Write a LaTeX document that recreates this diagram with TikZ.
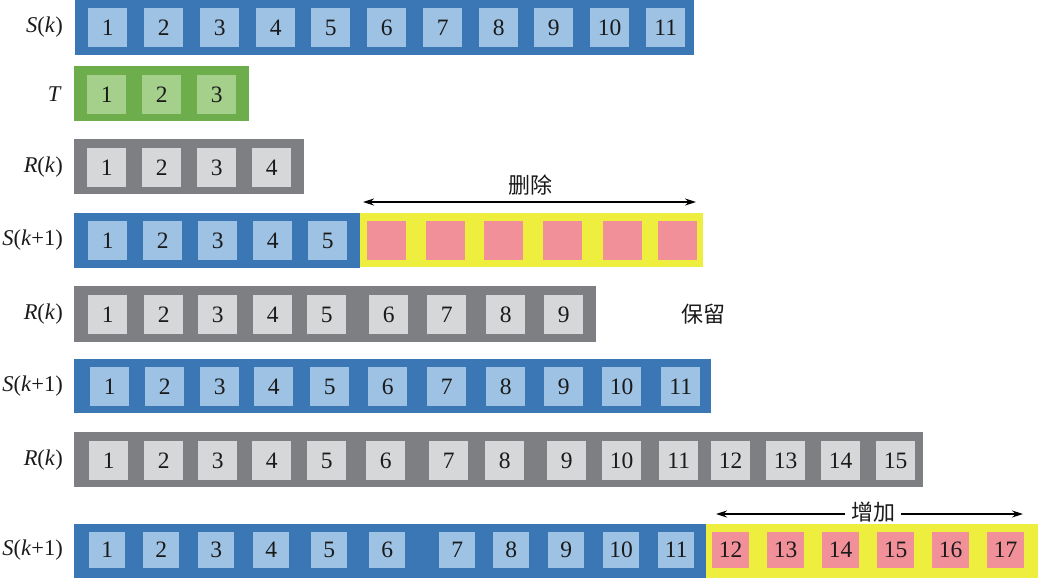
\documentclass[tikz,border=0pt]{standalone}
\usepackage{fontspec}
\setmainfont{Liberation Serif}
\newfontfamily\cjk{Noto Sans CJK SC}
\usetikzlibrary{arrows.meta}
\definecolor{barblue}{HTML}{3B77B4}
\definecolor{sqblue}{HTML}{9EC2E4}
\definecolor{bargreen}{HTML}{6EAD4C}
\definecolor{sqgreen}{HTML}{A5D08C}
\definecolor{bargray}{HTML}{7E7F83}
\definecolor{sqgray}{HTML}{D6D7D9}
\definecolor{baryellow}{HTML}{EEEE3E}
\definecolor{sqred}{HTML}{F2909A}
\definecolor{txt}{HTML}{1A1A1A}
\begin{document}
\begin{tikzpicture}[x=1pt,y=-1pt,
  bar/.style={rectangle,inner sep=0pt,draw=none,anchor=north west},
  sqbase/.style={rectangle,inner sep=0pt,draw=none,anchor=north west,
    minimum width=39pt,minimum height=39pt,text=txt,
    font=\fontsize{23.5}{23.5}\selectfont},
  bsq/.style={sqbase,fill=sqblue},
  gsq/.style={sqbase,fill=sqgreen},
  ysq/.style={sqbase,fill=sqgray},
  rsq/.style={sqbase,fill=sqred},
  lbl/.style={anchor=east,inner sep=0pt,text=txt,font=\fontsize{22.5}{22.5}\selectfont},
  cn/.style={inner sep=0pt,text=txt,font=\fontsize{22}{22}\selectfont\cjk},
  dbl/.style={line width=1.2pt,{Stealth[length=11pt,width=7pt]}-{Stealth[length=11pt,width=7pt]}},
  sgl/.style={line width=1.2pt,-{Stealth[length=11pt,width=7pt]}},
]
\useasboundingbox (0,0) rectangle (1038,578);
\fill[white] (0,0) rectangle (1038,578);

% Row 1: S(k)
\node[bar,fill=barblue,minimum width=619pt,minimum height=55pt] (bar1) at (75,0) {};
\foreach \x [count=\i] in {88,144,200,256,311,367,423,479,534,590,646}
  \node[bsq] (r1s\i) at (\x,8) {\i};
\node[lbl] (l1) at (63,27) {\textit{S}(\textit{k})};

% Row 2: T
\node[bar,fill=bargreen,minimum width=175pt,minimum height=55pt] (bar2) at (74,66) {};
\foreach \x [count=\i] in {87,142,197}
  \node[gsq] (r2s\i) at (\x,75) {\i};
\node[lbl] (l2) at (62,94) {\textit{T}};

% Row 3: R(k)
\node[bar,fill=bargray,minimum width=230pt,minimum height=55pt] (bar3) at (74,139) {};
\foreach \x [count=\i] in {87,142,197,252}
  \node[ysq] (r3s\i) at (\x,148) {\i};
\node[lbl] (l3) at (63,167) {\textit{R}(\textit{k})};

% Row 4: S(k+1) with deletion
\node[bar,fill=barblue,minimum width=286pt,minimum height=55pt] (bar4) at (74,213) {};
\node[bar,fill=baryellow,minimum width=343pt,minimum height=54pt] (bar4y) at (360,213) {};
\foreach \x [count=\i] in {88,143,198,253,308}
  \node[bsq] (r4s\i) at (\x,221) {\i};
\foreach \x [count=\i from 6] in {367,426,484,543,603,658}
  \node[rsq] (r4s\i) at (\x,221) {};
\node[lbl] (l4) at (63,240) {\textit{S}(\textit{k}+1)};
\coordinate (dl) at (363,202);
\coordinate (dr) at (696,202);
\draw[dbl] (dl) -- (dr);
\node[cn] (del) at (530,185) {删除};

% Row 5: R(k)
\node[bar,fill=bargray,minimum width=522pt,minimum height=56pt] (bar5) at (74,286) {};
\foreach \x [count=\i] in {88,144,198,253,307,369,427,486,544}
  \node[ysq] (r5s\i) at (\x,295) {\i};
\node[lbl] (l5) at (63,314) {\textit{R}(\textit{k})};
\node[cn] (keep) at (703,314) {保留};

% Row 6: S(k+1)
\node[bar,fill=barblue,minimum width=637pt,minimum height=54pt] (bar6) at (74,359) {};
\foreach \x [count=\i] in {90,145,200,254,310,368,427,486,544,602,661}
  \node[bsq] (r6s\i) at (\x,367) {\i};
\node[lbl] (l6) at (63,386) {\textit{S}(\textit{k}+1)};

% Row 7: R(k)
\node[bar,fill=bargray,minimum width=849pt,minimum height=55pt] (bar7) at (74,432) {};
\foreach \x [count=\i] in {89,144,198,252,307,366,429,485,547,602,659,711,766,821,876}
  \node[ysq] (r7s\i) at (\x,441) {\i};
\node[lbl] (l7) at (63,460) {\textit{R}(\textit{k})};

% Row 8: S(k+1) with addition
\node[bar,fill=barblue,minimum width=632pt,minimum height=54pt] (bar8) at (74,524) {};
\node[bar,fill=baryellow,minimum width=332pt,minimum height=54pt] (bar8y) at (706,524) {};
\foreach \x [count=\i] in {89,143,198,253,311,369,439,493,548,603,658}
  \node[bsq,minimum width=36pt,minimum height=36pt] (r8s\i) at (\x,532) {\i};
\foreach \x [count=\i from 12] in {712,767,822,877,932,987}
  \node[rsq,minimum width=37pt,minimum height=36pt] (r8s\i) at (\x,532) {\i};
\node[lbl] (l8) at (63,550) {\textit{S}(\textit{k}+1)};
\node[cn,inner xsep=6pt] (add) at (873,512) {增加};
\coordinate (al) at (716,514);
\coordinate (ar) at (1023,514);
\draw[sgl] (add.west |- al) -- (al);
\draw[sgl] (add.east |- ar) -- (ar);
\end{tikzpicture}
\end{document}
